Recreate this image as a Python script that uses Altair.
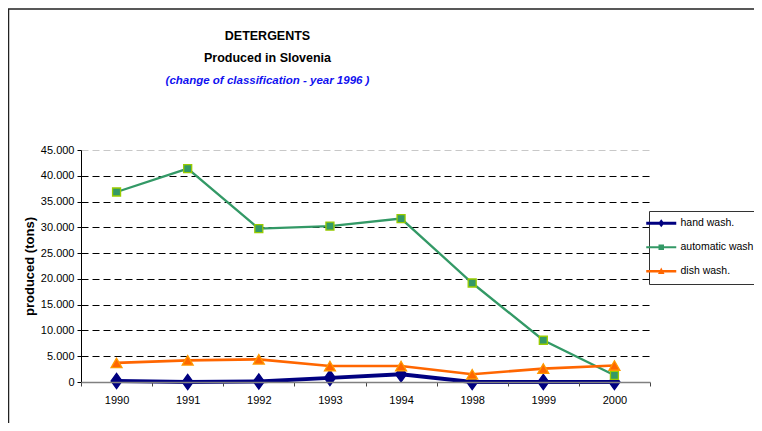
import altair as alt
import pandas as pd

years = ["1990", "1991", "1992", "1993", "1994", "1998", "1999", "2000"]
series = ["hand wash.", "automatic wash", "dish wash."]
hand = [200, 0, 100, 800, 1500, 0, 0, 0]
automatic = [36850, 41400, 29750, 30250, 31700, 19200, 8100, 1300]
dish = [3700, 4200, 4400, 3100, 3100, 1500, 2600, 3200]
y_ticks = [0, 5000, 10000, 15000, 20000, 25000, 30000, 35000, 40000, 45000]

line_colors = ["#000080", "#339966", "#FF6600"]
marker_fill = ["#000080", "#339966", "#FF6600"]
marker_stroke = ["#000080", "#99CC00", "#FF9900"]
# tall diamond, square, triangle
marker_shape = ["M0,-1.25L0.9,0L0,1.25L-0.9,0Z", "square", "triangle-up"]
marker_size = [150, 64, 120]
line_width = [4, 2.3, 2.7]

# legend symbols: line segment + marker (custom paths)
legend_paths = [
    "M-3,-0.3H3V0.3H-3Z M0,-0.8L0.6,0L0,0.8L-0.6,0Z",
    "M-3,-0.2H3V0.2H-3Z M-0.55,-0.55H0.55V0.55H-0.55Z",
    "M-3,-0.25H3V0.25H-3Z M0,-0.75L0.65,0.55H-0.65Z",
]

FONT = "Liberation Sans, Arial, sans-serif"

rows = []
for s, vals in zip(series, [hand, automatic, dish]):
    for i, (yr, v) in enumerate(zip(years, vals)):
        rows.append({"series": s, "year": yr, "idx": i, "value": v})
df = pd.DataFrame(rows)

n = len(years)
x_scale = alt.Scale(domain=[-0.5, n - 0.5], nice=False, zero=False)
y_scale = alt.Scale(domain=[0, 45000], nice=False)
color_scale = alt.Scale(domain=series, range=line_colors)

axis_ticks = alt.Axis(
    orient="bottom", values=[k - 0.5 for k in range(n + 1)], labels=False,
    ticks=True, tickSize=4, tickColor="#444444", domainColor="#808080",
    domainWidth=1.5, grid=False, title=None, zindex=1,
)
label_expr = "[" + ",".join("'%s'" % y for y in years) + "][datum.value]"
axis_labels = alt.Axis(
    orient="bottom", values=list(range(n)), ticks=False, domain=False,
    labelExpr=label_expr, labelFontSize=11, labelFont=FONT, labelColor="#000000",
    labelPadding=12, grid=False, title=None,
)
y_axis = alt.Axis(
    orient="left", values=y_ticks,
    labelExpr="replace(format(datum.value, ','), ',', '.')",
    grid=True, gridDash=[7, 4], gridWidth=1,
    gridColor={"condition": {"test": "datum.value >= 45000", "value": "#c8c8c8"}, "value": "#000000"},
    gridOpacity={"condition": {"test": "datum.value == 0", "value": 0}, "value": 1},
    domainColor="#000000", tickColor="#000000", tickSize=4,
    labelFontSize=11, labelFont=FONT, labelColor="#000000", labelPadding=3,
    title="produced  (tons)", titleFont=FONT, titleFontSize=13, titleFontWeight="bold",
    titleColor="#000000", titlePadding=4,
)

base = alt.Chart(df)

frame = alt.Chart(pd.DataFrame({"a": [0]})).mark_rect(
    fillOpacity=0, stroke="#222222", strokeWidth=1.5
).encode(
    x=alt.value(-72.5), x2=alt.value(760), y=alt.value(-141), y2=alt.value(400)
)

layers = [frame]
for k, s in enumerate(series):
    layers.append(
        base.transform_filter(alt.datum.series == s).mark_line(
            color=line_colors[k], strokeWidth=line_width[k]
        ).encode(
            x=alt.X("idx:Q", scale=x_scale, axis=axis_ticks if k == 0 else None),
            y=alt.Y("value:Q", scale=y_scale, axis=y_axis if k == 0 else None),
            order="idx:Q",
        )
    )
for k, s in enumerate(series):
    layers.append(
        base.transform_filter(alt.datum.series == s).mark_point(
            shape=marker_shape[k], filled=True, fill=marker_fill[k],
            stroke=marker_stroke[k], strokeWidth=1.3, size=marker_size[k], opacity=1,
        ).encode(
            x=alt.X("idx:Q", scale=x_scale, axis=axis_labels if k == 0 else None),
            y=alt.Y("value:Q", scale=y_scale, axis=None),
        )
    )

legend_props = dict(
    title=None, orient="none", legendX=568, legendY=61,
    strokeColor="#333333", padding=7, rowPadding=13,
    labelFont=FONT, labelFontSize=10.5, labelColor="#000000", labelOffset=14,
    symbolSize=100, symbolStrokeWidth=0,
)
legend_layer = base.transform_filter("false").mark_point(
    filled=True, size=100, opacity=1
).encode(
    color=alt.Color("series:N", scale=color_scale, legend=alt.Legend(**legend_props)),
    shape=alt.Shape("series:N", scale=alt.Scale(domain=series, range=legend_paths),
                    legend=alt.Legend(**legend_props)),
)
layers.append(legend_layer)

chart = alt.layer(*layers).resolve_axis(x="independent", y="independent").properties(
    width=569, height=232,
    autosize=alt.AutoSizeParams(type="none"),
    padding={"left": 73, "top": 142, "right": 104, "bottom": 41},
    background="white",
    title=alt.TitleParams(
        text=["DETERGENTS", "Produced in Slovenia"],
        subtitle=["(change of classification - year 1996 )"],
        font=FONT, fontSize=12.5, fontWeight="bold", color="#000000", lineHeight=22,
        subtitleFont=FONT, subtitleFontSize=11.5, subtitleFontStyle="italic",
        subtitleFontWeight="bold", subtitleColor="#1010F0", subtitlePadding=10,
        anchor="middle", dx=-98, offset=0, dy=78,
    ),
).configure_view(stroke=None)

chart.save("out.html", embed_options={"renderer": "svg", "actions": False})
